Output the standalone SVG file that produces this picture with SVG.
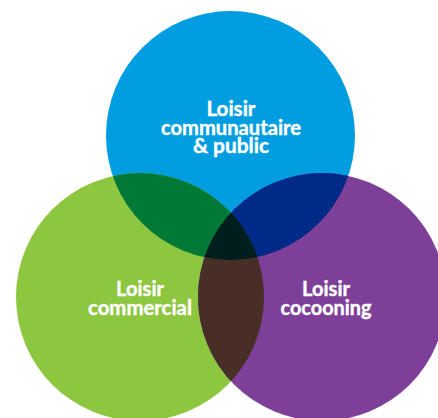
<svg xmlns="http://www.w3.org/2000/svg" width="438" height="418" viewBox="0 0 438 418">
<style>
.lbl{font-family:Lato,"Open Sans","Liberation Sans",sans-serif;font-weight:700;font-size:20.5px;fill:#ffffff;text-anchor:middle;stroke:#ffffff;stroke-width:0.4px}
</style>
<defs>
<clipPath id="cBlue"><circle cx="230.5" cy="135.5" r="124.5"/></clipPath>
<clipPath id="cGreen"><circle cx="140" cy="297" r="124"/></clipPath>
<clipPath id="cPurple"><circle cx="322" cy="297" r="124"/></clipPath>
</defs>
<rect width="438" height="418" fill="#ffffff"/>
<g id="node-communautaire">
<circle cx="230.5" cy="135.5" r="124.5" fill="#009EE0"/>
</g>
<g id="node-commercial">
<circle cx="140" cy="297" r="124" fill="#8DC63F"/>
</g>
<g id="node-cocooning">
<circle cx="322" cy="297" r="124" fill="#7E3F98"/>
</g>
<g id="overlaps">
<g clip-path="url(#cBlue)"><circle cx="140" cy="297" r="124" fill="#007836"/></g>
<g clip-path="url(#cBlue)"><circle cx="322" cy="297" r="124" fill="#002A87"/></g>
<g clip-path="url(#cGreen)"><circle cx="322" cy="297" r="124" fill="#472F28"/></g>
<g clip-path="url(#cBlue)"><g clip-path="url(#cGreen)"><circle cx="322" cy="297" r="124" fill="#011E1F"/></g></g>
</g>
<g id="labels">
<text class="lbl" x="231" y="116" textLength="49" lengthAdjust="spacingAndGlyphs">Loisir</text>
<text class="lbl" x="231" y="135" textLength="140" lengthAdjust="spacingAndGlyphs">communautaire</text>
<text class="lbl" x="231" y="153" textLength="76" lengthAdjust="spacingAndGlyphs">&amp; public</text>
<text class="lbl" x="140" y="296" textLength="48" lengthAdjust="spacingAndGlyphs">Loisir</text>
<text class="lbl" x="140" y="315" textLength="104" lengthAdjust="spacingAndGlyphs">commercial</text>
<text class="lbl" x="326" y="296" textLength="48" lengthAdjust="spacingAndGlyphs">Loisir</text>
<text class="lbl" x="326" y="315" textLength="91" lengthAdjust="spacingAndGlyphs">cocooning</text>
</g>
</svg>
